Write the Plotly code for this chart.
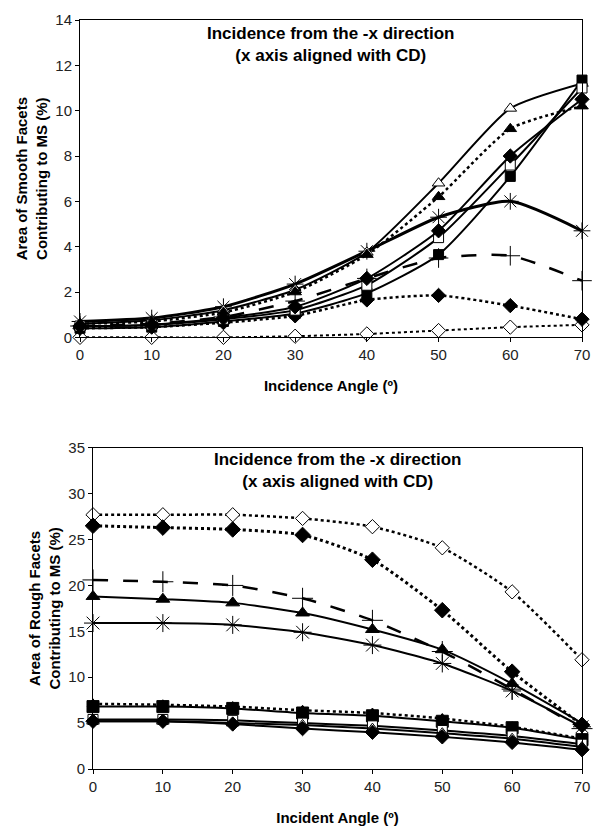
import plotly.graph_objects as go

angles = [0, 10, 20, 30, 40, 50, 60, 70]

# Top chart: smooth facets (%)
smooth_open_diamond = [0.0, 0.0, 0.0, 0.05, 0.15, 0.3, 0.45, 0.55]
smooth_filled_diamond_dot = [0.4, 0.45, 0.65, 0.95, 1.65, 1.85, 1.4, 0.8]
smooth_plus = [0.5, 0.6, 0.9, 1.6, 2.6, 3.5, 3.6, 2.5]
smooth_asterisk = [0.7, 0.85, 1.35, 2.35, 3.8, 5.3, 6.0, 4.7]
smooth_open_tri = [0.6, 0.75, 1.2, 2.1, 3.75, 6.8, 10.1, 11.2]
smooth_filled_tri = [0.6, 0.7, 1.1, 2.0, 3.65, 6.2, 9.2, 10.2]
smooth_filled_sq = [0.4, 0.45, 0.7, 1.05, 1.95, 3.65, 7.1, 11.35]
smooth_open_sq = [0.5, 0.55, 0.8, 1.2, 2.3, 4.4, 7.6, 11.0]
smooth_filled_dia = [0.5, 0.55, 0.85, 1.35, 2.6, 4.7, 8.0, 10.5]

# Bottom chart: rough facets (%)
rough_open_diamond = [27.7, 27.7, 27.7, 27.3, 26.4, 24.1, 19.3, 11.9]
rough_filled_diamond_dot = [26.5, 26.3, 26.1, 25.5, 22.8, 17.3, 10.6, 4.8]
rough_plus = [20.6, 20.4, 20.0, 18.6, 16.2, 12.8, 8.7, 4.4]
rough_filled_tri = [18.8, 18.5, 18.1, 17.0, 15.2, 13.0, 9.3, 5.0]
rough_asterisk = [15.9, 15.9, 15.7, 14.9, 13.5, 11.5, 8.5, 4.6]
rough_dot_upper = [7.1, 7.0, 6.8, 6.4, 6.1, 5.5, 4.6, 3.3]
rough_filled_sq = [6.8, 6.8, 6.6, 6.1, 5.8, 5.2, 4.5, 3.2]
rough_open_sq = [5.4, 5.4, 5.3, 5.0, 4.7, 4.2, 3.6, 2.7]
rough_open_tri = [5.2, 5.2, 5.0, 4.8, 4.4, 3.9, 3.3, 2.4]
rough_filled_dia = [5.2, 5.2, 4.9, 4.4, 4.0, 3.5, 2.9, 2.1]

FONT = "Liberation Sans, Arial, sans-serif"

fig = go.Figure()


def add(y, symbol, dash, width, filled=True, size=11, axis=1):
    if symbol in ("asterisk-open", "cross-thin-open"):
        marker = dict(symbol=symbol, size=size + 2, color="black",
                      line=dict(color="black", width=1))
    else:
        marker = dict(symbol=symbol, size=size,
                      color="black" if filled else "white",
                      line=dict(color="black", width=1))
    fig.add_trace(go.Scatter(
        x=angles, y=y, mode="lines+markers",
        line=dict(color="black", width=width, dash=dash, shape="spline", smoothing=0.6),
        marker=marker, cliponaxis=False, showlegend=False,
        xaxis="x" if axis == 1 else "x2", yaxis="y" if axis == 1 else "y2"))


# top
add(smooth_open_diamond, "diamond", "dot", 2, filled=False, size=11)
add(smooth_filled_diamond_dot, "diamond", "dot", 2.5, size=11)
add(smooth_plus, "cross-thin-open", "longdash", 2.5, size=12)
add(smooth_asterisk, "asterisk-open", "solid", 3, size=12)
add(smooth_open_tri, "triangle-up", "solid", 2, filled=False, size=11)
add(smooth_filled_tri, "triangle-up", "dot", 2.5, size=11)
add(smooth_filled_sq, "square", "solid", 2, size=10)
add(smooth_open_sq, "square", "solid", 2, filled=False, size=10)
add(smooth_filled_dia, "diamond", "solid", 2, size=11)

# bottom
add(rough_open_diamond, "diamond", "dot", 2.5, filled=False, size=11, axis=2)
add(rough_filled_diamond_dot, "diamond", "dot", 3, size=12, axis=2)
add(rough_plus, "cross-thin-open", "longdash", 2.5, size=13, axis=2)
add(rough_filled_tri, "triangle-up", "solid", 2, size=12, axis=2)
add(rough_asterisk, "asterisk-open", "solid", 2, size=13, axis=2)
add(rough_dot_upper, "triangle-up", "dot", 2.5, size=10, axis=2)
add(rough_filled_sq, "square", "solid", 2, size=12, axis=2)
add(rough_open_sq, "square", "solid", 2, filled=False, size=10, axis=2)
add(rough_open_tri, "triangle-up", "solid", 2, filled=False, size=11, axis=2)
add(rough_filled_dia, "diamond", "solid", 2, size=11, axis=2)

axis_common = dict(showline=True, linecolor="black", linewidth=1, mirror=True,
                   ticks="outside", ticklen=4, tickcolor="black", showgrid=False,
                   zeroline=False, tickfont=dict(family=FONT, size=15, color="#222"))
title_font = dict(family=FONT, size=15, color="black")

fig.update_layout(
    width=601, height=835,
    margin=dict(l=80, r=19, t=11, b=64),
    paper_bgcolor="white", plot_bgcolor="white",
    font=dict(family=FONT, color="black"),
    xaxis=dict(domain=[0, 1], range=[0, 70], dtick=10, anchor="y",
               title=dict(text="<b>Incidence Angle (º)</b>", font=title_font, standoff=18),
               **axis_common),
    yaxis=dict(domain=[0.5763, 1], range=[0, 14], dtick=2, anchor="x",
               title=dict(text="<b>Area of Smooth Facets<br>Contributing to MS (%)</b>",
                          font=title_font, standoff=4),
               **axis_common),
    xaxis2=dict(domain=[13 / 502, 1], range=[0, 70], dtick=10, anchor="y2",
                title=dict(text="<b>Incident Angle (º)</b>", font=title_font, standoff=18),
                **axis_common),
    yaxis2=dict(domain=[0, 0.4289], range=[0, 35], dtick=5, anchor="x2",
                title=dict(text="<b>Area of Rough Facets<br>Contributing to MS (%)</b>",
                           font=title_font, standoff=4),
                **axis_common),
)

fig.add_annotation(text="<b>Incidence from the -x direction<br>(x axis aligned with CD)</b>",
                   xref="paper", yref="paper", x=(331 - 80) / 502, y=1 - (36 - 11) / 760,
                   showarrow=False, font=dict(family=FONT, size=17, color="black"),
                   align="center", yanchor="middle")
fig.add_annotation(text="<b>Incidence from the -x direction<br>(x axis aligned with CD)</b>",
                   xref="paper", yref="paper", x=(338 - 80) / 502, y=(771 - 468) / 760,
                   showarrow=False, font=dict(family=FONT, size=17, color="black"),
                   align="center", yanchor="middle")

fig.write_html("out.html")
